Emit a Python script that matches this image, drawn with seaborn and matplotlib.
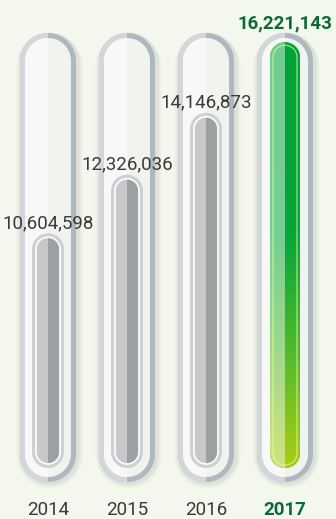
import matplotlib
matplotlib.use("Agg")
import matplotlib.pyplot as plt
import numpy as np
import seaborn as sns
from matplotlib.colors import LinearSegmentedColormap
from matplotlib.patches import Polygon, Rectangle

# data
years = ["2014", "2015", "2016", "2017"]
visitors = [10604598, 12326036, 14146873, 16221143]
highlight = "2017"

# layout (pixels of the 336x519 picture)
W, H = 336, 519
X_STEP = 79          # px between tube centres
X_FIRST = 48         # px, centre of first tube
Y_SCALE = 34 / 1e6   # px per visitor
BASE = 3.7e6         # value where the bars start
BASE_PX = 468        # px from top where the bars start
TUBE_TOP, TUBE_BOT = 33, 482
TUBE_W, BAR_W = 56, 32

BG = "#f3f7ee"
TEXT = "#3a3a3a"
GREEN_TEXT = "#0b6a35"

sns.set_theme(style="white")
plt.rcParams["font.family"] = ["Roboto", "DejaVu Sans"]

fig = plt.figure(figsize=(W / 100, H / 100), dpi=100, facecolor=BG)
ax = fig.add_axes([0, 0, 1, 1])
ax.set_facecolor(BG)

sns.barplot(x=years, y=visitors, width=BAR_W / X_STEP, color="#9ea1a4",
            errorbar=None, ax=ax)

xlim = (-X_FIRST / X_STEP, (W - X_FIRST) / X_STEP)
ylo = BASE - (H - BASE_PX) / Y_SCALE
yhi = ylo + H / Y_SCALE


def py(px):
    # px from top -> data y
    return yhi - px / Y_SCALE


def dpx(px):
    return px / Y_SCALE


def capsule(xc, y0, y1, wpx, **kw):
    # pill shape with true semicircular ends
    rx = wpx / 2 / X_STEP
    ry = dpx(wpx / 2)
    t = np.linspace(0, np.pi, 40)
    top = np.column_stack([xc + rx * np.cos(t), y1 - ry + ry * np.sin(t)])
    bot = np.column_stack([xc - rx * np.cos(t), y0 + ry - ry * np.sin(t)])
    p = Polygon(np.vstack([top, bot]), closed=True, **kw)
    ax.add_patch(p)
    return p


def left_half(p, xc, color, z, alpha=1.0):
    r = Rectangle((xlim[0], ylo), xc - xlim[0], yhi - ylo, facecolor=color,
                  lw=0, alpha=alpha, zorder=z)
    ax.add_patch(r)
    r.set_clip_path(p)


green_cmap = LinearSegmentedColormap.from_list(
    "grn", [(0, "#00a33a"), (0.45, "#05a63a"), (0.75, "#58bb2c"), (1, "#abcd14")])

bars = list(ax.patches)
for year, bar in zip(years, bars):
    xc = bar.get_x() + bar.get_width() / 2
    top = bar.get_height()
    bar.remove()

    # soft shadow
    for k in range(1, 6):
        capsule(xc + 1.5 / X_STEP, py(TUBE_BOT + 1 + k), py(TUBE_TOP - 1 + k * 0.3),
                TUBE_W + 2 * k, facecolor="#5f6f50", alpha=0.03, lw=0, zorder=1)

    # glass tube
    rim = capsule(xc, py(TUBE_BOT), py(TUBE_TOP), TUBE_W,
                  facecolor="#adb8c0", lw=0, zorder=2)
    left_half(rim, xc, "#d3d7db", 2.1)
    inner = capsule(xc, py(TUBE_BOT - 5), py(TUBE_TOP + 5), TUBE_W - 10,
                    facecolor="#f1f3ef", lw=0, zorder=3)
    left_half(inner, xc, "#f8f9f6", 3.1)

    if year == highlight:
        body = capsule(xc, BASE, top, BAR_W - 2, facecolor="#00a33a", lw=0, zorder=5)
        w = (BAR_W - 2) / X_STEP
        img = ax.imshow(np.linspace(0, 1, 256).reshape(-1, 1), cmap=green_cmap,
                        extent=[xc - w / 2, xc + w / 2, BASE, top], aspect="auto",
                        interpolation="bilinear", zorder=5.1)
        img.set_clip_path(body)
        left_half(body, xc, "white", 5.2, alpha=0.45)
        capsule(xc, BASE + dpx(3), top - dpx(3), BAR_W - 8, facecolor="none",
                edgecolor="#e8ff9a", alpha=0.6, lw=1.0, zorder=5.3)
        ax.annotate(f"{top:,.0f}", (xc, py(TUBE_TOP)), xytext=(0, 5),
                    textcoords="offset pixels", ha="center", va="baseline",
                    fontsize=13.5, fontweight="bold", color=GREEN_TEXT, zorder=10)
        ax.text(xc, py(515), year, ha="center", va="baseline", fontsize=13.5,
                fontweight="bold", color=GREEN_TEXT, zorder=10)
    else:
        capsule(xc, BASE, top, BAR_W, facecolor="#cdd1d4", lw=0, zorder=5)
        body = capsule(xc, BASE + dpx(4), top - dpx(4), BAR_W - 8,
                       facecolor="#9ea1a4", lw=0, zorder=5.1)
        left_half(body, xc, "#c6c8ca", 5.2)
        capsule(xc, BASE + dpx(4), top - dpx(4), BAR_W - 8, facecolor="none",
                edgecolor="white", lw=1.2, zorder=5.3)
        ax.annotate(f"{top:,.0f}", (xc, top), xytext=(0, 5),
                    textcoords="offset pixels", ha="center", va="baseline",
                    fontsize=13.5, color=TEXT, zorder=10)
        ax.text(xc, py(515), year, ha="center", va="baseline", fontsize=13.5,
                color=TEXT, zorder=10)

ax.set_xlim(xlim)
ax.set_ylim(ylo, yhi)
ax.axis("off")

plt.savefig("out.png", dpi=100, facecolor=BG)
plt.close()
